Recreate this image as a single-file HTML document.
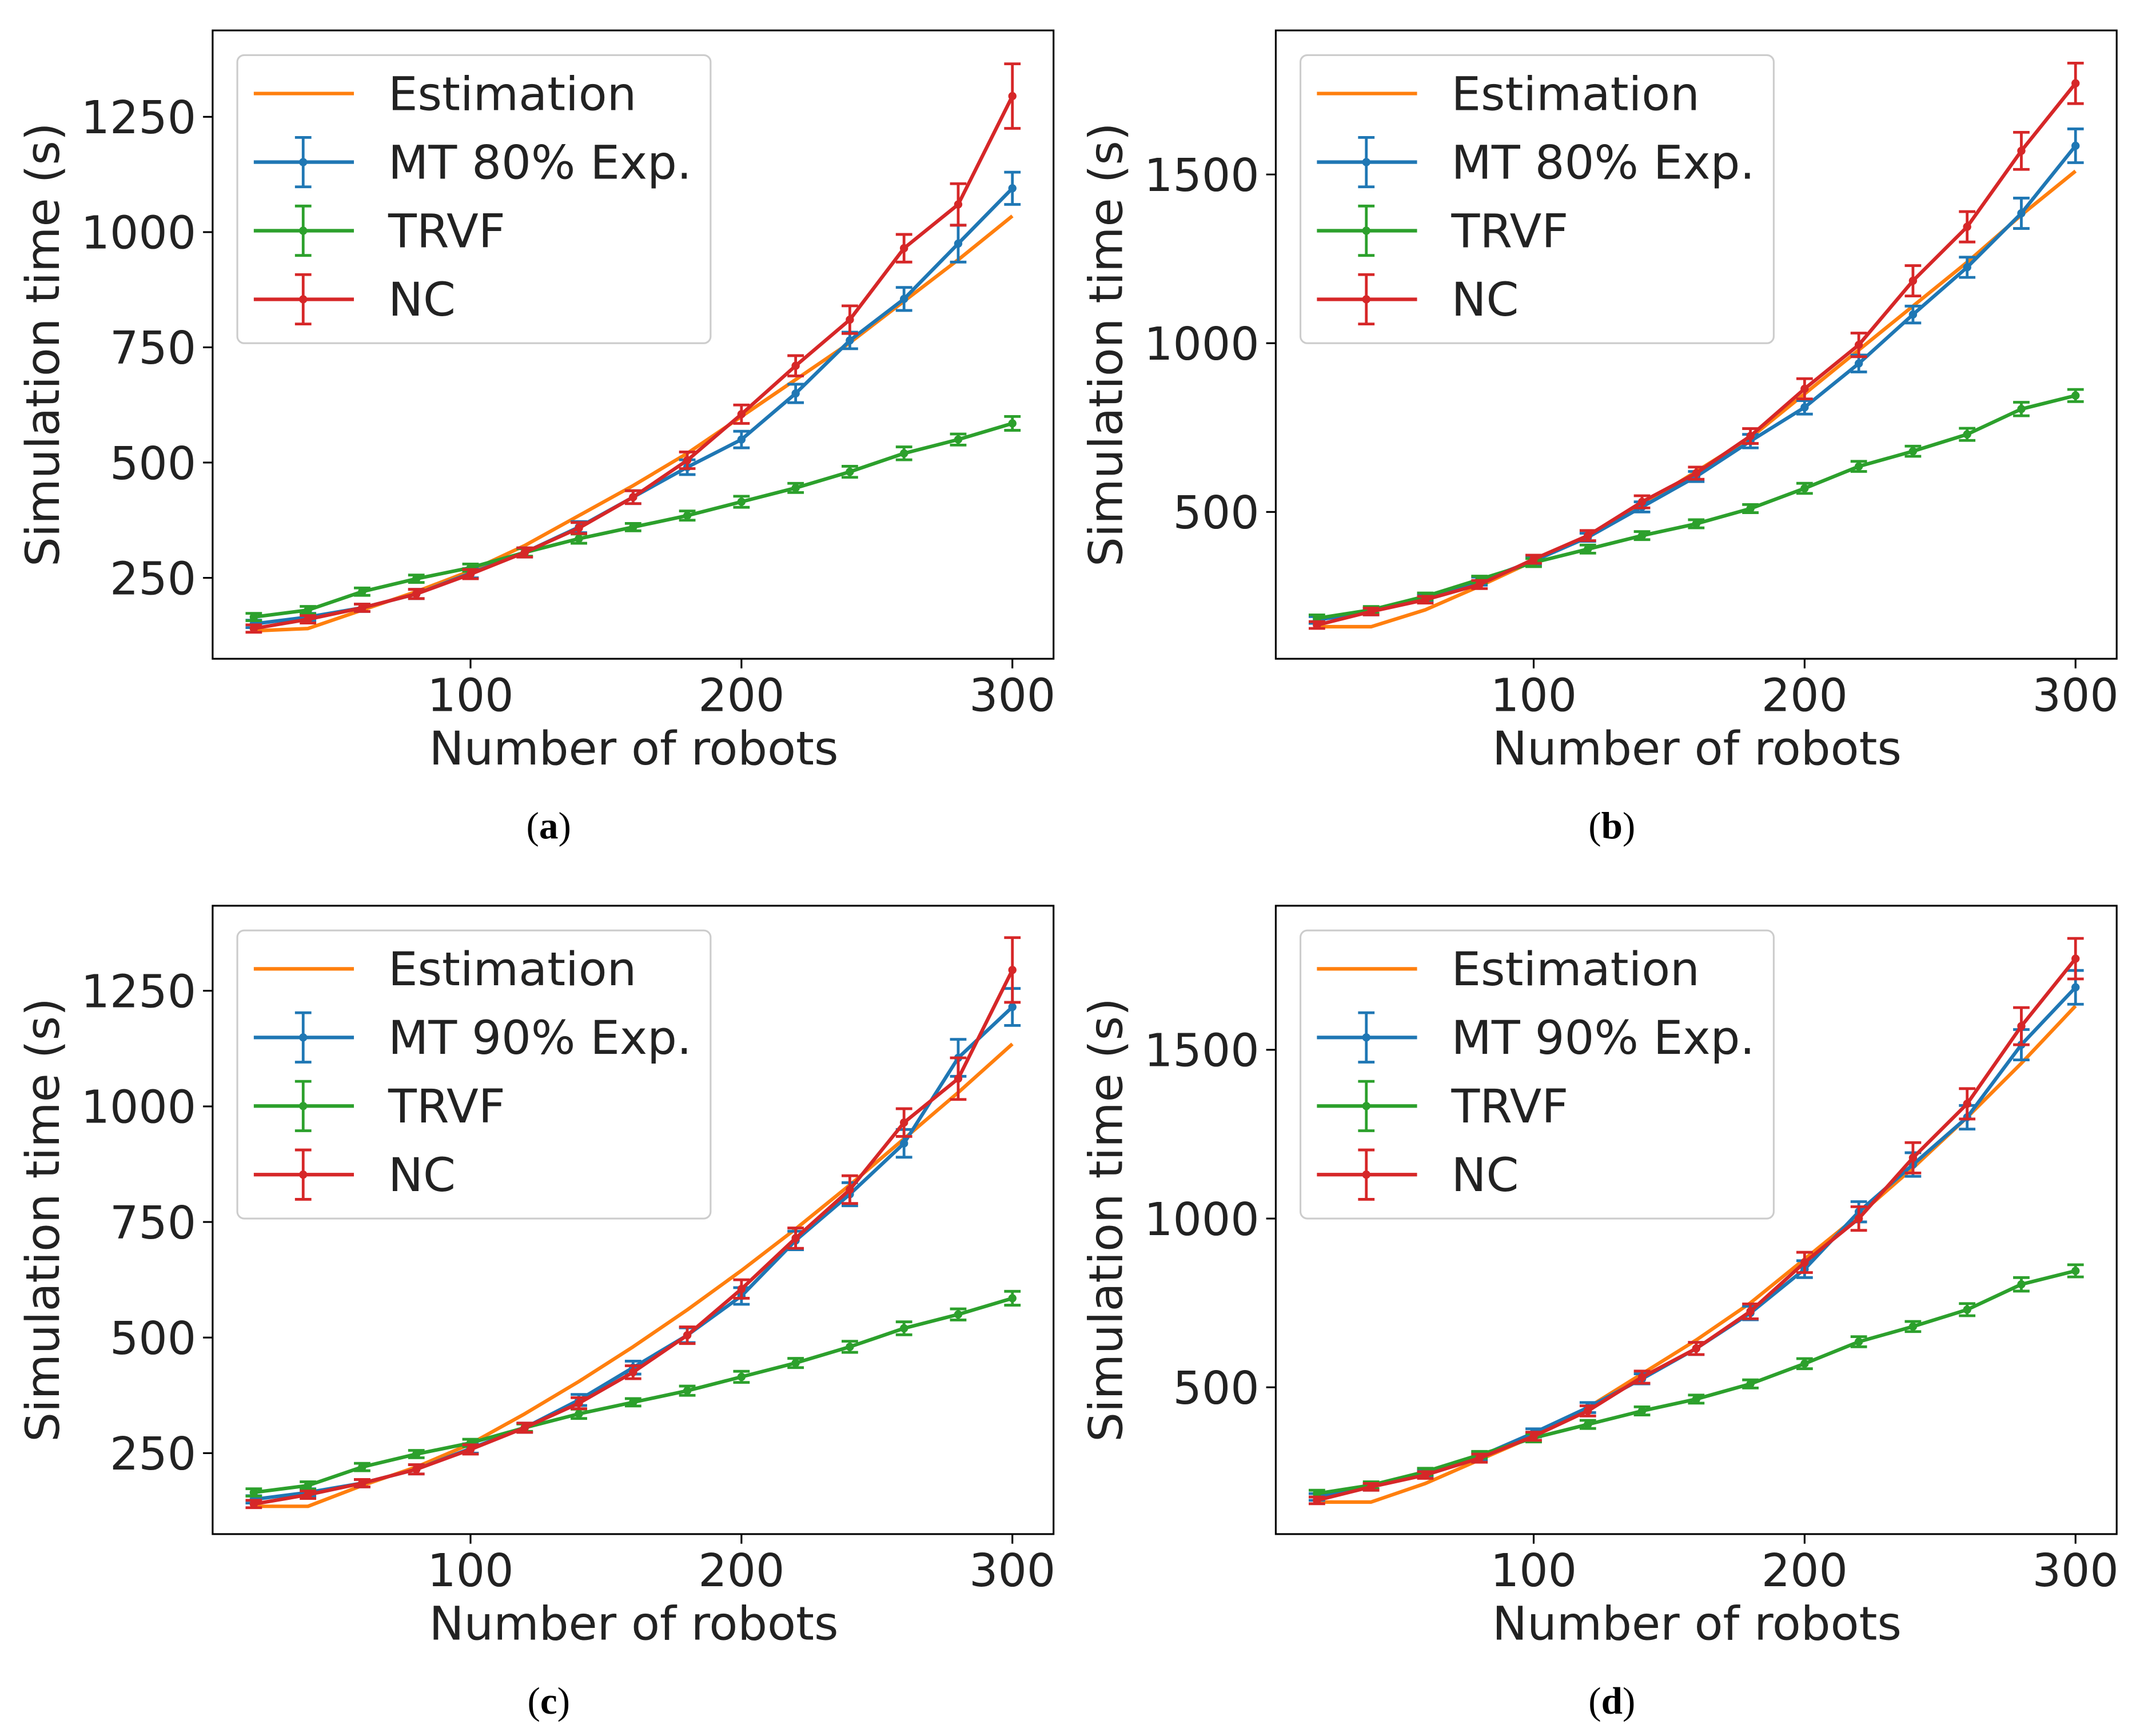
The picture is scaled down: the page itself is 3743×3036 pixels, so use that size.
<!DOCTYPE html>
<html><head><meta charset="utf-8"><style>html,body{margin:0;padding:0;background:#fff}svg{display:block}</style></head>
<body>
<svg id="fig" xmlns="http://www.w3.org/2000/svg" width="3743" height="3036" viewBox="0 0 1560 1265" font-family="'DejaVu Sans', 'Liberation Sans', sans-serif"></svg>
<script>
const xs = [20,40,60,80,100,120,140,160,180,200,220,240,260,280,300];
const estA = [135,140,180,220,265,320,385,450,520,600,680,760,850,940,1035];
const mtA = [150,165,185,215,260,305,360,425,490,550,650,765,855,975,1095];
const mtAErr = [8,8,8,10,10,10,12,14,16,18,20,18,25,40,35];
const trvfA = [165,180,220,248,272,305,335,360,385,415,445,480,520,550,585];
const trvfAErr = [8,8,8,8,8,8,10,8,10,12,10,12,14,12,15];
const ncA = [140,160,185,215,258,305,358,425,505,605,710,810,965,1060,1295];
const ncAErr = [8,8,8,10,10,10,12,14,18,20,22,30,30,45,70];
const estB = [160,160,210,280,355,430,520,620,720,850,980,1110,1240,1380,1510];
const mtB = [180,205,245,295,355,425,515,605,710,810,940,1085,1225,1385,1585];
const mtBErr = [10,10,10,12,12,12,15,15,20,20,25,25,30,45,50];
const trvfB = [185,210,250,300,350,390,430,465,510,570,635,680,730,805,845];
const trvfBErr = [10,10,10,10,12,12,12,12,12,15,15,15,18,20,18];
const ncB = [165,205,240,285,360,430,530,615,725,865,995,1185,1345,1570,1770];
const ncBErr = [10,10,10,12,12,15,18,18,22,30,35,45,45,55,60];
const estC = [135,135,180,220,270,335,405,480,560,645,735,830,930,1030,1135];
const mtC = [150,165,185,215,260,305,365,435,505,590,710,810,920,1105,1215];
const mtCErr = [8,8,8,10,10,10,12,14,16,18,20,25,30,40,40];
const ncC = [140,160,185,215,258,305,358,425,505,605,715,820,965,1060,1295];
const ncCErr = [8,8,8,10,10,10,12,14,18,20,22,30,30,45,70];
const estD = [160,160,215,285,355,440,540,640,750,880,1010,1150,1300,1460,1630];
const mtD = [175,205,245,295,365,440,525,615,720,850,1020,1160,1300,1515,1685];
const mtDErr = [10,10,10,12,12,15,15,18,20,25,30,35,35,45,50];
const ncD = [165,205,240,290,355,430,530,615,725,870,1000,1180,1340,1570,1770];
const ncDErr = [10,10,10,12,12,15,18,18,22,30,35,45,45,55,60];
const xTicks = [100,200,300];
const yTicksAC = [250,500,750,1000,1250];
const yTicksBD = [500,1000,1500];

const NS = "http://www.w3.org/2000/svg";
const svg = document.getElementById('fig');
function mk(tag, attrs, parent){const e=document.createElementNS(NS,tag);for(const k in attrs)e.setAttribute(k,attrs[k]);(parent||svg).appendChild(e);return e;}

const panels = [
 {id:'a', ox:0, oy:0, y0v:250, y0p:421, y1v:1250, y1p:85, yt:yTicksAC, mtLabel:'MT 80% Exp.', est:estA, mt:mtA, mtE:mtAErr, tr:trvfA, trE:trvfAErr, nc:ncA, ncE:ncAErr},
 {id:'b', ox:775, oy:0, y0v:500, y0p:373, y1v:1500, y1p:127, yt:yTicksBD, mtLabel:'MT 80% Exp.', est:estB, mt:mtB, mtE:mtBErr, tr:trvfB, trE:trvfBErr, nc:ncB, ncE:ncBErr},
 {id:'c', ox:0, oy:638, y0v:250, y0p:421, y1v:1250, y1p:84, yt:yTicksAC, mtLabel:'MT 90% Exp.', est:estC, mt:mtC, mtE:mtCErr, tr:trvfA, trE:trvfAErr, nc:ncC, ncE:ncCErr},
 {id:'d', ox:775, oy:638, y0v:500, y0p:373, y1v:1500, y1p:127, yt:yTicksBD, mtLabel:'MT 90% Exp.', est:estD, mt:mtD, mtE:mtDErr, tr:trvfB, trE:trvfBErr, nc:ncD, ncE:ncDErr}
];
const C = {est:'#ff7f0e', mt:'#1f77b4', tr:'#2ca02c', nc:'#d62728'};

panels.forEach(p=>{
  const g = mk('g',{transform:`translate(${p.ox},${p.oy})`});
  
  
  const X = v => 343 + (v-100)*1.975;
  const Y = v => p.y0p + (v-p.y0v)*(p.y1p-p.y0p)/(p.y1v-p.y0v);
  const L=155,R=768,T=22,B=480;
  p.yt.forEach(t=>{
    const tg = mk('g',{},g);
    
    
    mk('line',{x1:L-7,x2:L,y1:Y(t),y2:Y(t),stroke:'#000','stroke-width':1.3},tg);
    const tx=mk('text',{x:L-12,y:Y(t)+12,'text-anchor':'end','font-size':33,fill:'#222'},tg); tx.textContent=t;
  });
  xTicks.forEach(t=>{
    const tg = mk('g',{},g);
    
    
    mk('line',{x1:X(t),x2:X(t),y1:B,y2:B+7,stroke:'#000','stroke-width':1.3},tg);
    const tx=mk('text',{x:X(t),y:B+38,'text-anchor':'middle','font-size':33,fill:'#222'},tg); tx.textContent=t;
  });
  const xl=mk('text',{x:462,y:557,'text-anchor':'middle','font-size':34,fill:'#222'},g); xl.textContent='Number of robots';
   
  const yl=mk('text',{x:0,y:0,transform:`translate(43,251) rotate(-90)`,'text-anchor':'middle','font-size':34,fill:'#222'},g); yl.textContent='Simulation time (s)';
   
  const cap=mk('text',{x:400,y:611,'text-anchor':'middle','font-size':28,'font-family':"'Liberation Serif', serif",fill:'#000'},g);
  cap.innerHTML=`(<tspan font-weight="bold">${p.id}</tspan>)`;
   
  function series(vals, errs, color, name){
    const sg=mk('g',{},g);
    
    
    if(errs){
      vals.forEach((v,i)=>{
        const x=X(xs[i]);
        mk('line',{x1:x,x2:x,y1:Y(v-errs[i]),y2:Y(v+errs[i]),stroke:color,'stroke-width':2},sg);
        mk('line',{x1:x-6,x2:x+6,y1:Y(v-errs[i]),y2:Y(v-errs[i]),stroke:color,'stroke-width':2},sg);
        mk('line',{x1:x-6,x2:x+6,y1:Y(v+errs[i]),y2:Y(v+errs[i]),stroke:color,'stroke-width':2},sg);
      });
    }
    mk('polyline',{points:vals.map((v,i)=>X(xs[i])+','+Y(v)).join(' '),fill:'none',stroke:color,'stroke-width':2.6,'stroke-linejoin':'round'},sg);
    if(errs) vals.forEach((v,i)=>mk('circle',{cx:X(xs[i]),cy:Y(v),r:3,fill:color},sg));
  }
  series(p.est,null,C.est,'estimation-line');
  series(p.mt,p.mtE,C.mt,'mt-series');
  series(p.tr,p.trE,C.tr,'trvf-series');
  series(p.nc,p.ncE,C.nc,'nc-series');
  mk('rect',{x:L,y:T,width:R-L,height:B-T,fill:'none',stroke:'#000','stroke-width':1.3},g);
  const lg=mk('g',{},g);
  
  
  mk('rect',{x:173,y:40,width:345,height:210,rx:5,fill:'#fff','fill-opacity':0.85,stroke:'#ccc','stroke-width':1.3},lg);
  const items=[['Estimation',C.est,false],[p.mtLabel,C.mt,true],['TRVF',C.tr,true],['NC',C.nc,true]];
  items.forEach((it,i)=>{
    const y=68+i*50;
    const eg=mk('g',{},lg);
    
    
    mk('line',{x1:185,x2:258,y1:y,y2:y,stroke:it[1],'stroke-width':2.6},eg);
    if(it[2]){
      mk('line',{x1:221,x2:221,y1:y-18,y2:y+18,stroke:it[1],'stroke-width':2},eg);
      mk('line',{x1:215,x2:227,y1:y-18,y2:y-18,stroke:it[1],'stroke-width':2},eg);
      mk('line',{x1:215,x2:227,y1:y+18,y2:y+18,stroke:it[1],'stroke-width':2},eg);
      mk('circle',{cx:221,cy:y,r:3,fill:it[1]},eg);
    }
    const t=mk('text',{x:283,y:y+12,'font-size':34,fill:'#222'},eg); t.textContent=it[0];
  });
});
</script>
</body></html>
